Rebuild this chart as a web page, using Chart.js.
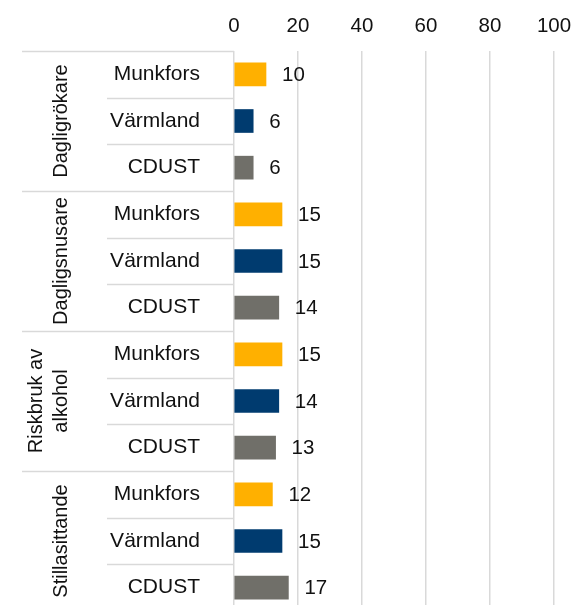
<!DOCTYPE html>
<html>
<head>
<meta charset="utf-8">
<script src="https://cdn.jsdelivr.net/npm/chart.js@4/dist/chart.umd.min.js"></script>
<style>
  html, body { margin: 0; padding: 0; background: #fff; overflow: hidden; width: 578px; height: 605px; }
  canvas { display: block; }
</style>
</head>
<body>
<canvas id="c" width="578" height="611"></canvas>
<script>
const groups = ["Dagligrökare", "Dagligsnusare", ["Riskbruk av", "alkohol"], "Stillasittande"];
const areas = ["Munkfors", "Värmland", "CDUST"];
const areaColors = ["#FFB000", "#003B6F", "#706F69"];
const daglRokare = [10, 6, 6];
const daglSnusare = [15, 15, 14];
const riskbruk = [15, 14, 13];
const stillasittande = [12, 15, 17];
const xTicks = [0, 20, 40, 60, 80, 100];

const seriesByGroup = [daglRokare, daglSnusare, riskbruk, stillasittande];
const labels = [];
const values = [];
const colors = [];
seriesByGroup.forEach(arr => {
  arr.forEach((v, i) => { labels.push(areas[i]); values.push(v); colors.push(areaColors[i]); });
});

const FONT = "'Liberation Sans', Arial, sans-serif";
const GRID = "#d9d9d9";

const decor = {
  id: "decor",
  afterDraw(chart) {
    const ctx = chart.ctx;
    const y = chart.scales.y;
    const area = chart.chartArea;
    const n = labels.length;
    const rowH = (y.getPixelForValue(1) - y.getPixelForValue(0));
    ctx.save();
    ctx.strokeStyle = GRID;
    ctx.lineWidth = 1.5;
    for (let r = 0; r <= n; r++) {
      const yy = Math.round(y.getPixelForValue(r) - rowH / 2) + 0.5;
      const x0 = (r % 3 === 0) ? 22 : 107;
      ctx.beginPath();
      ctx.moveTo(x0, yy);
      ctx.lineTo(area.left, yy);
      ctx.stroke();
    }
    ctx.fillStyle = "#111";
    ctx.font = "20px " + FONT;
    ctx.textAlign = "center";
    ctx.textBaseline = "middle";
    groups.forEach((g, gi) => {
      const cy = (y.getPixelForValue(gi * 3) + y.getPixelForValue(gi * 3 + 2)) / 2;
      const lines = Array.isArray(g) ? g : [g];
      lines.forEach((t, li) => {
        const cx = lines.length === 1 ? 61 : (li === 0 ? 36 : 61);
        ctx.save();
        ctx.translate(cx, cy);
        ctx.rotate(-Math.PI / 2);
        ctx.fillText(t, 0, 0);
        ctx.restore();
      });
    });
    const meta = chart.getDatasetMeta(0);
    ctx.font = "20.5px " + FONT;
    ctx.textAlign = "left";
    meta.data.forEach((bar, i) => {
      ctx.fillText(String(values[i]), bar.x + 16, bar.y + 1);
    });
    ctx.restore();
  }
};

new Chart(document.getElementById("c"), {
  type: "bar",
  data: {
    labels: labels,
    datasets: [{
      data: values,
      backgroundColor: colors,
      borderWidth: 0,
      barThickness: 23
    }]
  },
  options: {
    indexAxis: "y",
    responsive: false,
    animation: false,
    devicePixelRatio: 1,
    layout: { padding: { left: 0, right: 24, top: 0, bottom: 0 } },
    plugins: { legend: { display: false }, tooltip: { enabled: false } },
    scales: {
      x: {
        position: "top",
        min: 0,
        max: 100,
        afterBuildTicks(scale) { scale.ticks = xTicks.map(v => ({ value: v })); },
        afterFit(scale) { scale.height = 51; scale.paddingLeft = 0; scale.paddingRight = 0; },
        ticks: { font: { size: 20.5, family: FONT }, color: "#111", padding: 12, maxRotation: 0 },
        grid: { color: GRID, lineWidth: 1.5, drawTicks: false },
        border: { display: false }
      },
      y: {
        afterFit(scale) { scale.width = 234; scale.paddingTop = 0; scale.paddingBottom = 0; },
        ticks: { font: { size: 21, family: FONT }, color: "#111", padding: 34, autoSkip: false },
        grid: { display: false, drawTicks: false },
        border: { display: false }
      }
    }
  },
  plugins: [decor]
});
</script>
</body>
</html>
